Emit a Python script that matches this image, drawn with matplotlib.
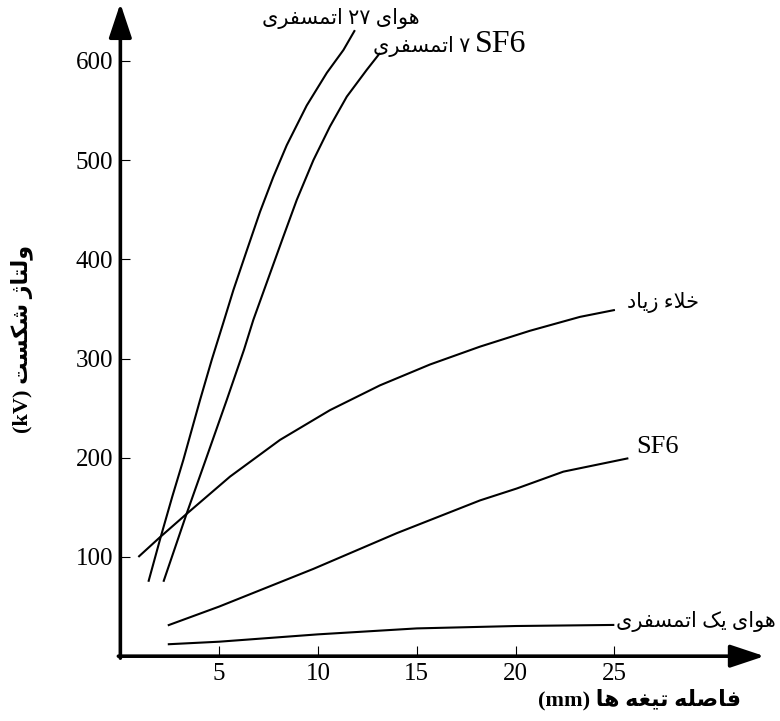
import matplotlib
matplotlib.use('Agg')
import matplotlib.pyplot as plt

# --- datos (mm, kV) ---
aire27_x = [1.42, 2.04, 2.63, 3.19, 4.03, 4.63, 5.21, 5.72, 6.40, 7.07, 7.74, 8.42,
            9.43, 10.45, 11.29, 11.87]
aire27_y = [75, 120, 161, 198, 258, 299, 336, 369, 409, 448, 483, 515,
            555, 588, 611, 631]

sf6_7_x = [2.18, 3.36, 4.32, 5.38, 6.26, 6.73, 7.58, 8.25, 8.93, 9.77, 10.61,
           11.46, 12.47, 13.14]
sf6_7_y = [75, 144, 198, 258, 309, 339, 386, 423, 460, 500, 534,
           564, 591, 608]

vacio_x = [0.91, 2.01, 3.27, 5.55, 8.08, 10.61, 13.14, 15.67, 18.2, 20.73, 23.26, 25.03]
vacio_y = [100, 120, 142, 181, 218, 248, 273, 294, 312, 328, 342, 349]

sf6_x = [2.4, 5.0, 9.77, 13.99, 18.2, 20.06, 22.42, 25.71]
sf6_y = [31, 50, 88, 124, 157, 169, 186, 199.5]

aire1_x = [2.4, 5.0, 10.0, 15.0, 20.0, 25.0]
aire1_y = [12, 14.6, 22, 28, 30.4, 31.5]

xticks = [5, 10, 15, 20, 25]
yticks = [100, 200, 300, 400, 500, 600]

# --- formas contextuales del persa (matplotlib no hace el "shaping") ---
FORMAS = {
    'ا': (0xFE8D, 0xFE8E, None, None),
    'ت': (0xFE95, 0xFE96, 0xFE97, 0xFE98),
    'خ': (0xFEA5, 0xFEA6, 0xFEA7, 0xFEA8),
    'د': (0xFEA9, 0xFEAA, None, None),
    'ر': (0xFEAD, 0xFEAE, None, None),
    'ز': (0xFEAF, 0xFEB0, None, None),
    'ژ': (0xFB8A, 0xFB8B, None, None),
    'س': (0xFEB1, 0xFEB2, 0xFEB3, 0xFEB4),
    'ش': (0xFEB5, 0xFEB6, 0xFEB7, 0xFEB8),
    'ص': (0xFEB9, 0xFEBA, 0xFEBB, 0xFEBC),
    'غ': (0xFECD, 0xFECE, 0xFECF, 0xFED0),
    'ف': (0xFED1, 0xFED2, 0xFED3, 0xFED4),
    'ک': (0xFB8E, 0xFB8F, 0xFB90, 0xFB91),
    'ل': (0xFEDD, 0xFEDE, 0xFEDF, 0xFEE0),
    'م': (0xFEE1, 0xFEE2, 0xFEE3, 0xFEE4),
    'ه': (0xFEE9, 0xFEEA, 0xFEEB, 0xFEEC),
    'و': (0xFEED, 0xFEEE, None, None),
    'ی': (0xFBFC, 0xFBFD, 0xFBFE, 0xFBFF),
    'ء': (0xFE80, None, None, None),
    'لا': (0xFEFB, 0xFEFC, None, None),
}


def tipo(c):
    f = FORMAS.get(c)
    if f is None:
        return 'U'
    if f[2] is not None:
        return 'D'
    if f[1] is not None:
        return 'R'
    return 'U'


def palabra(w):
    toks = []
    i = 0
    while i < len(w):
        if w[i] == 'ل' and i + 1 < len(w) and w[i + 1] == 'ا':
            toks.append('لا')
            i += 2
        else:
            toks.append(w[i])
            i += 1
    out = []
    for i, t in enumerate(toks):
        if t not in FORMAS:
            out.append(t)
            continue
        prev = i > 0 and tipo(toks[i - 1]) == 'D' and tipo(t) in 'DR'
        nxt = i < len(toks) - 1 and tipo(t) == 'D' and tipo(toks[i + 1]) in 'DR'
        idx = 3 if (prev and nxt) else 1 if prev else 2 if nxt else 0
        out.append(chr(FORMAS[t][idx]))
    if any(t in FORMAS for t in toks):
        out = out[::-1]
    return ''.join(out)


def fa(texto):
    return ' '.join(palabra(w) for w in texto.split(' ')[::-1])


FAM = ['Liberation Serif', 'DejaVu Sans']
plt.rcParams['font.family'] = FAM

fig = plt.figure(figsize=(7.8, 7.21), dpi=100)
ax = fig.add_axes([0.1543, 0.0899, 0.8233, 0.9013])
ax.set_xlim(0, 32.5)
ax.set_ylim(0, 655)

for xs, ys in [(aire27_x, aire27_y), (sf6_7_x, sf6_7_y), (vacio_x, vacio_y),
               (sf6_x, sf6_y), (aire1_x, aire1_y)]:
    ax.plot(xs, ys, color='black', lw=1.5, solid_capstyle='butt',
            solid_joinstyle='round')

for s in ax.spines.values():
    s.set_visible(False)

flecha = dict(arrowstyle='-|>,head_length=21,head_width=7', mutation_scale=1,
              color='black', lw=2.6, shrinkA=0, shrinkB=0)
ax.annotate('', xy=(32.6, 0), xytext=(-0.1, 0), xycoords='data',
            arrowprops=flecha, annotation_clip=False)
ax.annotate('', xy=(0, 658), xytext=(0, -2), xycoords='data',
            arrowprops=flecha, annotation_clip=False)

ax.set_xticks(xticks)
ax.set_yticks(yticks)
ax.set_xticklabels([str(v) for v in xticks])
ax.set_yticklabels([str(v) for v in yticks])
ax.tick_params(direction='in', length=7, width=0.8, labelsize=18, pad=5)

fs = 15
ax.text(11.17, 643, fa('هوای ۲۷ اتمسفری'), fontsize=fs, ha='center', va='center')
ax.text(17.7, 615, fa('۷ اتمسفری'), fontsize=fs, ha='right', va='center')
ax.text(17.95, 617, 'SF6', fontsize=23, ha='left', va='center')
ax.text(25.65, 356, fa('خلاء زیاد'), fontsize=fs, ha='left', va='center')
ax.text(26.1, 211, 'SF6', fontsize=19, ha='left', va='center')
ax.text(25.1, 34.6, fa('هوای یک اتمسفری'), fontsize=fs, ha='left', va='center')

fig.text(0.028, 0.53, fa('ولتاژ شکست (kV)'), fontsize=16, fontweight='bold',
         rotation=90, ha='center', va='center')
fig.text(0.82, 0.03, fa('فاصله تیغه ها (mm)'), fontsize=16, fontweight='bold',
         ha='center', va='center')

fig.savefig('out.png', dpi=100)
